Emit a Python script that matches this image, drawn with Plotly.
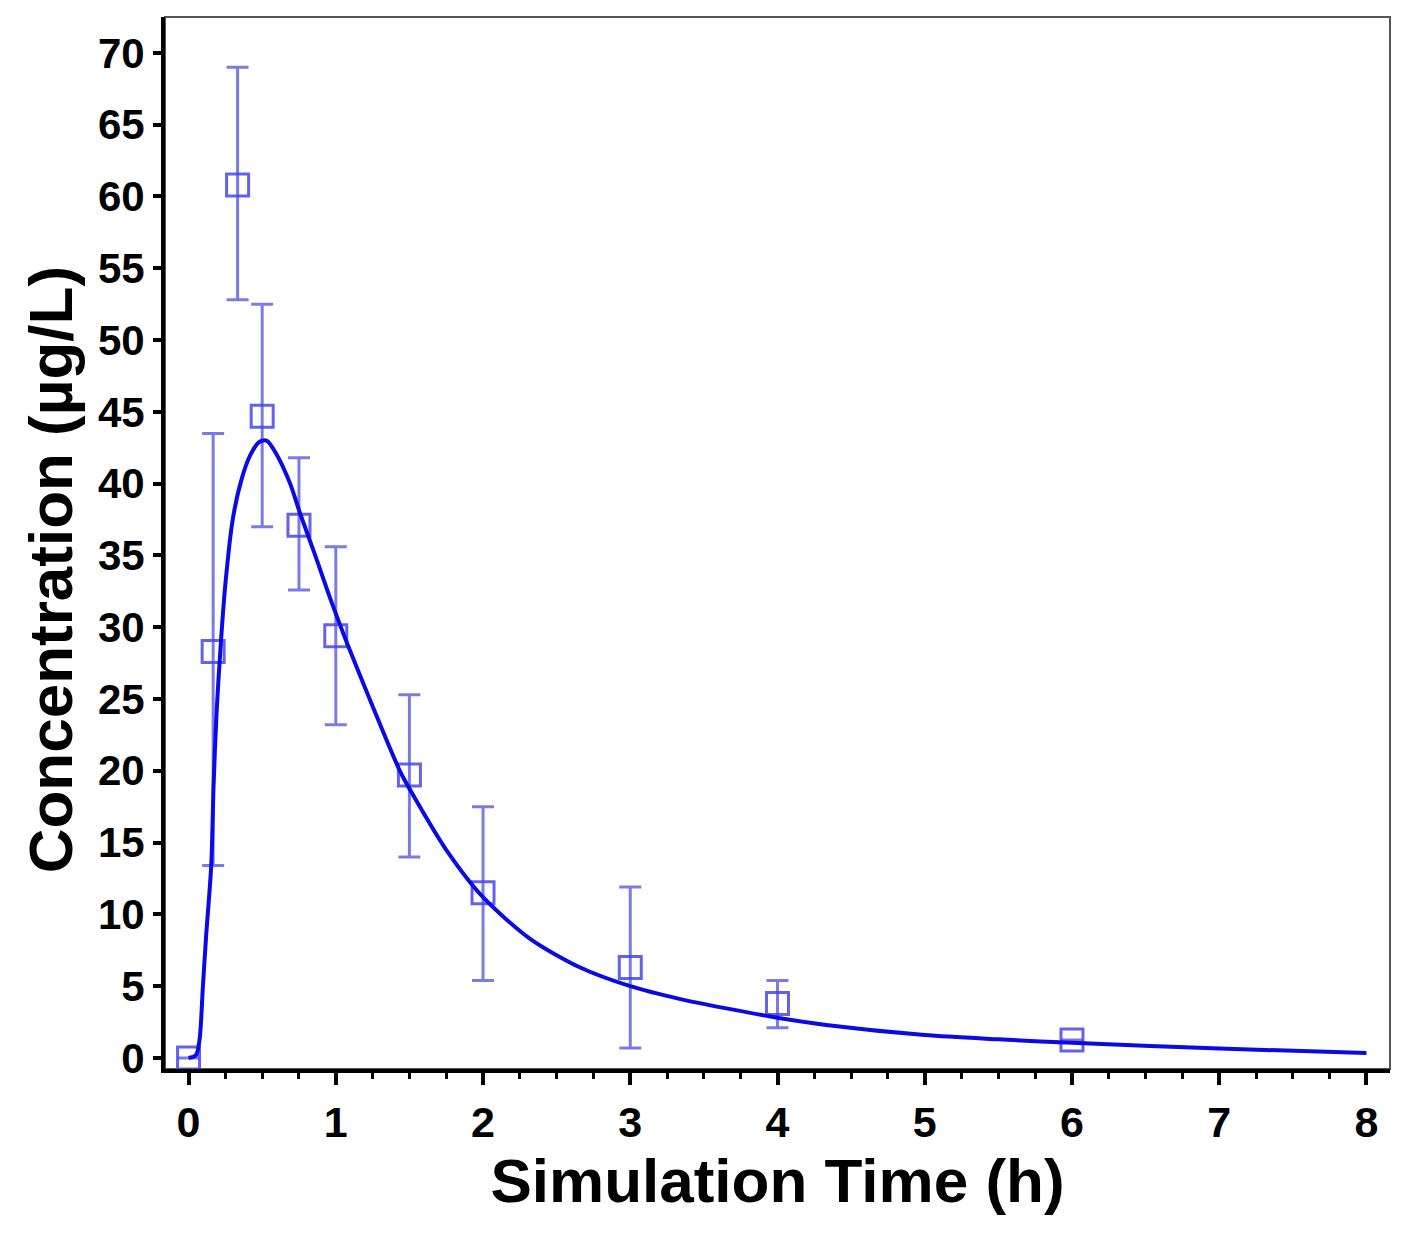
import plotly.graph_objects as go

# observed concentrations (mean with error bars)
obs_time = [0, 0.167, 0.333, 0.5, 0.75, 1.0, 1.5, 2.0, 3.0, 4.0, 6.0]
obs_conc = [0.0, 28.3, 60.8, 44.7, 37.1, 29.4, 19.7, 11.5, 6.3, 3.8, 1.25]
obs_upper = [0.0, 43.5, 69.0, 52.5, 41.8, 35.6, 25.3, 17.5, 11.9, 5.4, 1.25]
obs_lower = [0.0, 13.4, 52.8, 37.0, 32.6, 23.2, 14.0, 5.4, 0.7, 2.1, 1.25]

# simulated profile
sim_time = [0, 0.05, 0.075, 0.097, 0.12, 0.154, 0.17, 0.19, 0.22, 0.25, 0.30,
            0.36, 0.42, 0.48, 0.53, 0.60, 0.69, 0.755, 0.85, 0.98, 1.08, 1.25,
            1.435, 1.526, 1.75, 2.0, 2.32, 2.66, 3.0, 3.34, 3.68, 4.0,
            4.33, 5.0, 5.5, 6.0, 7.0, 8.0]
sim_conc = [0, 0.2, 1.3, 4.9, 8.6, 13.4, 19.0, 24.0, 29.0, 33.0, 37.5,
            40.3, 42.0, 42.9, 43.0, 42.0, 40.0, 38.0, 35.3, 31.5, 28.8, 24.5,
            20.0, 18.3, 14.5, 11.2, 8.3, 6.3, 5.0, 4.1, 3.4, 2.8,
            2.3, 1.6, 1.3, 1.05, 0.65, 0.35]

err_plus = [u - c for u, c in zip(obs_upper, obs_conc)]
err_minus = [c - l for c, l in zip(obs_conc, obs_lower)]

fig = go.Figure()
fig.add_trace(go.Scatter(
    x=obs_time, y=obs_conc, mode="markers",
    marker=dict(symbol="square-open", size=22, color="rgba(70,70,235,0.85)",
                line=dict(width=3)),
    error_y=dict(type="data", array=err_plus, arrayminus=err_minus,
                 color="rgba(90,90,225,0.8)", thickness=3, width=11),
    showlegend=False,
))
fig.add_trace(go.Scatter(
    x=sim_time, y=sim_conc, mode="lines",
    line=dict(color="#0a0ae6", width=4, shape="spline", smoothing=0.8),
    showlegend=False,
))

font = dict(family="Liberation Sans, Arial, sans-serif", color="black")
fig.update_layout(
    width=1401, height=1240,
    margin=dict(l=157, r=19, t=9, b=179),
    plot_bgcolor="white", paper_bgcolor="white",
    font=font,
    shapes=[dict(type="rect", xref="paper", yref="paper", x0=0, y0=0, x1=1, y1=1,
                 line=dict(color="#555555", width=2), layer="below")],
    annotations=[dict(text="<b>Concentration (µg/L)</b>", xref="paper", yref="paper",
                      x=0, y=0.474, xshift=-115, xanchor="center", yanchor="middle",
                      textangle=-90, showarrow=False, font=dict(size=62))],
)
fig.update_xaxes(
    range=[-0.16, 8.16], tickmode="array", tickvals=list(range(9)),
    ticks="outside", ticklen=12, tickwidth=4, tickcolor="black",
    minor=dict(dtick=0.25, tick0=0, ticks="outside", ticklen=6, tickwidth=3, tickcolor="black"),
    showline=True, linecolor="black", linewidth=4, showgrid=False, zeroline=False,
    tickfont=dict(size=43, family="Liberation Sans", color="black", weight="bold"),
    title=dict(text="<b>Simulation Time (h)</b>", font=dict(size=62), standoff=14),
)
fig.update_yaxes(
    range=[-0.77, 72.5], tickmode="array", tickvals=list(range(0, 71, 5)),
    ticks="outside", ticklen=8, tickwidth=4, tickcolor="black",
    showline=True, linecolor="black", linewidth=4, showgrid=False, zeroline=False,
    tickfont=dict(size=42, family="Liberation Sans", color="black", weight="bold"),
)

fig.write_html("out.html")
